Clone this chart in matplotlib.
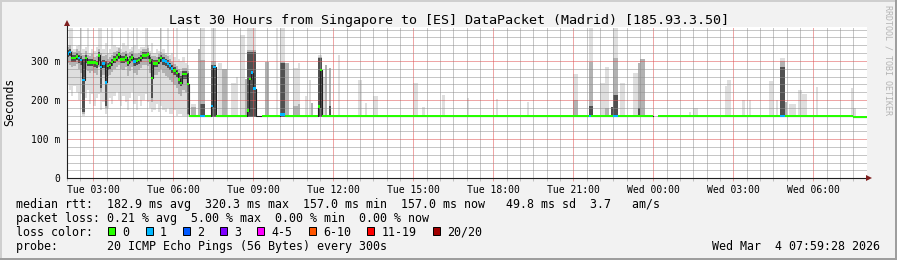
import numpy as np
import matplotlib
matplotlib.use('Agg')
import matplotlib.pyplot as plt
from matplotlib.patches import Rectangle

W, H = 897, 260
plt.rcParams['font.family'] = 'DejaVu Sans Mono'
plt.rcParams['lines.scale_dashes'] = False

# ---------------- data ----------------
title = 'Last 30 Hours from Singapore to [ES] DataPacket (Madrid) [185.93.3.50]'
t_first = 1 + 59 / 60 + 28 / 3600      # Tue 01:59:28
t_last = t_first + 30                  # Wed 07:59:28
tick_labels = ['Tue 03:00', 'Tue 06:00', 'Tue 09:00', 'Tue 12:00', 'Tue 15:00',
               'Tue 18:00', 'Tue 21:00', 'Wed 00:00', 'Wed 03:00', 'Wed 06:00']
y_ticks = [0, 100, 200, 300]
y_tick_labels = ['0', '100 m', '200 m', '300 m']

# busy period, one value per 5 minutes from Tue 02:00 (ms)
start_a = 'Tue 02:00'
med_a = [319, 323, 308, 308, 312, 308, 303, 251, 307, 296, 296, 296, 296, 293, 314,
         285, 293, 245, 287, 290, 297, 304, 309, 316, 304, 304, 309, 296, 304, 309,
         298, 300, 302, 308, 314, 314, 316, 301, 257, 294, 294, 301, 308, 301, 298,
         294, 288, 281, 275, 269, 253, 244, 267, 267, 241]
loss_a = [1, 1, 0, 0, 0, 1, 1, 1, 0, 0, 0, 0, 0, 0, 0,
          1, 1, 1, 0, 0, 0, 0, 0, 0, 0, 0, 0, 0, 0, 0,
          1, 0, 0, 0, 0, 0, 0, 0, 0, 0, 0, 0, 0, 1, 1,
          1, 1, 1, 0, 0, 0, 0, 0, 0, 0]
light_hi_a = [340, 384, 384, 330, 338, 340, 384, 330, 335, 384, 320, 330, 325, 335, 384,
              384, 330, 345, 320, 330, 384, 340, 335, 335, 330, 345, 338, 384, 330, 335,
              340, 384, 330, 335, 335, 384, 342, 325, 345, 320, 330, 325, 384, 330, 320,
              384, 315, 320, 310, 384, 305, 300, 310, 295, 290]
light_lo_a = [240, 225, 210, 235, 220, 200, 215, 160, 205, 225, 190, 215, 185, 205, 215,
              175, 195, 165, 180, 205, 190, 210, 220, 200, 185, 210, 195, 175, 205, 220,
              190, 175, 210, 185, 200, 215, 195, 180, 170, 175, 190, 170, 185, 175, 170,
              180, 165, 165, 175, 160, 165, 165, 160, 160, 160]
mid_hi_a = [335, 340, 325, 322, 330, 325, 320, 315, 325, 315, 312, 318, 310, 312, 330,
            320, 312, 315, 305, 310, 315, 322, 325, 332, 320, 322, 326, 318, 322, 325,
            318, 318, 320, 325, 330, 330, 332, 320, 312, 312, 310, 318, 322, 318, 315,
            312, 305, 298, 292, 288, 280, 275, 282, 282, 275]
mid_lo_a = [295, 290, 285, 288, 292, 280, 270, 165, 280, 275, 270, 275, 268, 265, 285,
            220, 265, 180, 262, 265, 272, 280, 285, 290, 280, 278, 285, 262, 275, 285,
            270, 265, 278, 282, 290, 290, 288, 270, 195, 265, 265, 272, 280, 270, 262,
            258, 252, 245, 238, 230, 215, 210, 225, 220, 162]
dark_hi_a = [328, 330, 316, 316, 320, 316, 312, 305, 315, 304, 304, 305, 303, 301, 322,
             300, 302, 300, 295, 298, 305, 312, 317, 324, 312, 312, 317, 305, 312, 317,
             308, 308, 310, 316, 322, 322, 324, 310, 305, 302, 302, 309, 316, 310, 306,
             302, 296, 290, 284, 278, 270, 262, 275, 275, 268]
dark_lo_a = [310, 312, 298, 298, 302, 296, 290, 170, 296, 286, 286, 286, 284, 282, 300,
             230, 282, 185, 276, 280, 288, 294, 300, 306, 294, 294, 298, 286, 294, 300,
             286, 290, 292, 298, 304, 304, 306, 292, 205, 284, 284, 292, 298, 290, 288,
             282, 276, 270, 264, 258, 240, 235, 255, 255, 165]

# quiet period: flat median segments
flat_from = ['Tue 06:35', 'Wed 00:10', 'Wed 07:30']
flat_to = ['Wed 00:00', 'Wed 07:30', 'Wed 08:00']
flat_ms = [159, 159, 157]

# median steps that differ from the flat line (loss -1: no colour)
ev_time = ['Tue 07:00', 'Tue 07:05', 'Tue 07:25', 'Tue 07:30', 'Tue 08:45', 'Tue 08:50',
           'Tue 08:55', 'Tue 09:00', 'Tue 09:05', 'Tue 09:10', 'Tue 09:15', 'Tue 10:00',
           'Tue 10:05', 'Tue 11:25', 'Tue 11:30', 'Tue 21:35', 'Tue 22:30', 'Tue 22:35',
           'Wed 04:45', 'Wed 04:50']
ev_ms = [159, 159, 185, 285, 173, 254, 270, 229, 159, 159, 159, 163,
         163, 183, 277, 159, 159, 159, 159, 159]
ev_loss = [1, 1, 1, 1, 0, 0, 1, 1, -1, -1, -1, 1, 1, 0, 0, 1, 1, 1, 1, 1]

# smoke spikes during the quiet period: start, 5-min steps, tops of light/mid/dark smoke
sp_time = ['Tue 06:40', 'Tue 06:55', 'Tue 07:00', 'Tue 07:25', 'Tue 07:40', 'Tue 07:50',
           'Tue 08:10', 'Tue 08:20', 'Tue 08:30', 'Tue 08:40', 'Tue 08:45', 'Tue 09:25',
           'Tue 09:50', 'Tue 10:00', 'Tue 10:10', 'Tue 10:30', 'Tue 10:40', 'Tue 10:55',
           'Tue 11:05', 'Tue 11:10', 'Tue 11:25', 'Tue 11:35', 'Tue 11:40', 'Tue 11:50',
           'Tue 12:10', 'Tue 12:55', 'Tue 13:10', 'Tue 13:30', 'Tue 15:00', 'Tue 15:20',
           'Tue 16:05', 'Tue 17:00', 'Tue 18:05', 'Tue 19:15', 'Tue 21:00', 'Tue 21:35',
           'Tue 22:00', 'Tue 22:10', 'Tue 22:25', 'Tue 22:30', 'Tue 22:45', 'Tue 23:15',
           'Tue 23:25', 'Tue 23:30', 'Wed 01:20', 'Wed 01:30', 'Wed 02:40', 'Wed 02:45',
           'Wed 03:20', 'Wed 03:35', 'Wed 04:20', 'Wed 04:35', 'Wed 04:45', 'Wed 04:55',
           'Wed 05:05', 'Wed 05:25', 'Wed 05:35', 'Wed 06:05', 'Wed 07:25', 'Wed 07:30']
sp_steps = [2, 1, 2, 2, 2, 2, 2, 1, 2, 1, 4, 2, 1, 2, 2, 2, 1, 1, 1, 1, 2, 1, 1, 1,
            1, 2, 1, 2, 2, 1, 1, 1, 1, 1, 2, 2, 2, 2, 1, 2, 2, 2, 1, 2, 1, 2, 1, 2,
            1, 1, 2, 1, 2, 1, 3, 2, 2, 1, 1, 1]
sp_light = [190, 330, 384, 384, 295, 279, 243, 259, 366, 254, 384, 298, 384, 384, 295, 282,
            296, 210, 251, 192, 315, 260, 290, 281, 315, 251, 192, 210, 243, 182, 213, 205,
            203, 196, 267, 384, 243, 285, 182, 384, 243, 270, 294, 305, 170, 179, 236, 251,
            200, 200, 250, 200, 307, 195, 190, 225, 215, 233, 231, 180]
sp_mid = [183, 330, 302, 300, 0, 279, 0, 0, 0, 254, 327, 298, 0, 298, 295, 185,
          190, 0, 0, 192, 310, 0, 290, 281, 0, 0, 0, 0, 0, 0, 0, 0,
          0, 0, 200, 298, 0, 180, 182, 307, 0, 0, 294, 305, 0, 0, 0, 0,
          0, 0, 0, 0, 300, 195, 0, 0, 0, 0, 0, 0]
sp_dark = [0, 0, 190, 290, 0, 0, 0, 0, 0, 0, 322, 0, 0, 295, 0, 0,
           0, 0, 0, 0, 307, 0, 0, 185, 0, 0, 0, 0, 0, 0, 0, 0,
           0, 0, 0, 185, 0, 0, 182, 213, 0, 0, 180, 0, 0, 0, 0, 0,
           0, 0, 0, 0, 285, 0, 0, 0, 0, 0, 0, 0]
sp_base = 158

loss_names = ['0', '1', '2', '3', '4-5', '6-10', '11-19', '20/20']
loss_colors = ['#26ff00', '#00b8ff', '#0059ff', '#7e00ff', '#ff00ff', '#ff5500', '#ff0000', '#a10000']

line_rtt = 'median rtt:  182.9 ms avg  320.3 ms max  157.0 ms min  157.0 ms now   49.8 ms sd  3.7   am/s'
line_loss = 'packet loss: 0.21 % avg  5.00 % max  0.00 % min  0.00 % now'
line_probe = 'probe:       20 ICMP Echo Pings (56 Bytes) every 300s'
stamp = 'Wed Mar  4 07:59:28 2026'


def hrs(s):
    day, hm = s.split()
    h, m = hm.split(':')
    return (24 if day == 'Wed' else 0) + int(h) + int(m) / 60


# ---------------- assemble 5-minute grid ----------------
step = 5 / 60
t0 = hrs(start_a)
n = 360
t = t0 + np.arange(n + 1) * step
med = np.full(n, np.nan)
loss = np.full(n, -1)


def idx(s):
    return int(round((hrs(s) - t0) / step))


med[:len(med_a)] = med_a
loss[:len(loss_a)] = loss_a
for f0, f1, v in zip(flat_from, flat_to, flat_ms):
    med[idx(f0):idx(f1)] = v
    loss[idx(f0):idx(f1)] = 0
for s, v, c in zip(ev_time, ev_ms, ev_loss):
    med[idx(s)] = v
    loss[idx(s)] = c

# ---------------- figure ----------------
fig = plt.figure(figsize=(W / 100, H / 100), dpi=100)
fig.patch.set_facecolor('#f2f2f2')
ax = fig.add_axes([66.5 / W, 1 - 178.3 / H, 800 / W, 151.6 / H])
ax.set_facecolor('white')
ax.set_xlim(t_first, t_last)
ax.set_ylim(0, 387.6)

light, mid, dark = '#dedede', '#b2b2b2', '#505050'
ta = t[:len(med_a)]
for lo, hi, col in [(light_lo_a, light_hi_a, light), (mid_lo_a, mid_hi_a, mid),
                    (dark_lo_a, dark_hi_a, dark)]:
    ax.bar(ta, np.subtract(hi, lo), bottom=lo, width=step, align='edge', color=col,
           linewidth=0, antialiased=False, zorder=1)

ts = np.array([hrs(s) for s in sp_time])
for tops, col in [(sp_light, light), (sp_mid, mid), (sp_dark, dark)]:
    tops = np.array(tops, dtype=float)
    m = tops > 0
    ax.bar(ts[m], tops[m] - sp_base, bottom=sp_base, width=np.array(sp_steps)[m] * step,
           align='edge', color=col, linewidth=0, antialiased=False, zorder=1)

# median: dark connecting line plus loss-coloured stubs
ax.step(t, np.append(med, med[-1]), where='post', color='#202020', lw=0.8, zorder=3)
half = 3.2
for c, col in enumerate(loss_colors):
    m = loss == c
    if m.any():
        ax.bar(t[:-1][m], 2 * half, bottom=med[m] - half, width=step, align='edge',
               color=col, linewidth=0, antialiased=False, zorder=4)

# grid
ax.set_xticks([hrs(s) for s in tick_labels])
ax.set_xticklabels(tick_labels)
ax.set_xticks(np.arange(2.0, 32.0, 0.5), minor=True)
ax.set_yticks(y_ticks)
ax.set_yticklabels(y_tick_labels)
ax.set_yticks(np.arange(0, 388, 20), minor=True)
ax.set_axisbelow(False)
dots = (0, (0.72, 0.72))
minor_rgb, minor_a = (0.56, 0.56, 0.56), 0.5
major_rgb, major_a = (0.87, 0.31, 0.31), 0.5
ax.grid(which='minor', color=minor_rgb, alpha=minor_a, linestyle=dots, linewidth=0.72,
        antialiased=False)
ax.grid(which='major', color=major_rgb, alpha=major_a, linestyle=dots, linewidth=0.72,
        antialiased=False)
ax.tick_params(axis='x', which='major', length=2, width=0.72, color=major_rgb + (major_a,),
               labelsize=7, pad=2.5)
ax.tick_params(axis='x', which='minor', length=2, width=0.72, color=minor_rgb + (minor_a,))
ax.tick_params(axis='y', which='both', length=0, labelsize=7, pad=4.7)
for sp in ax.spines.values():
    sp.set_visible(False)

# axes with arrows
ax.plot([0, 0], [0, 1.02], transform=ax.transAxes, color='#1f1f1f', lw=0.8, clip_on=False, zorder=6)
ax.plot([0, 1.002], [0, 0], transform=ax.transAxes, color='#1f1f1f', lw=0.8, clip_on=False, zorder=6)
ax.plot([0], [1.025], transform=ax.transAxes, marker='^', ms=4, color='#801f1f',
        clip_on=False, zorder=7, markeredgewidth=0)
ax.plot([1.0035], [0], transform=ax.transAxes, marker='>', ms=4, color='#801f1f',
        clip_on=False, zorder=7, markeredgewidth=0)


# texts
def px(x, y):
    return x / W, 1 - y / H


fig.text(*px(448.5, 24), title, ha='center', va='baseline', fontsize=9.6)
fig.text(*px(10, 102), 'Seconds', rotation=90, ha='center', va='center', fontsize=8.3)
fig.text(*px(888, 60), 'RRDTOOL / TOBI OETIKER', rotation=270, ha='center', va='center',
         fontsize=6, color='#b4b4b4')
fig.text(*px(16, 207.7), line_rtt, ha='left', va='baseline', fontsize=8.4)
fig.text(*px(16, 221.7), line_loss, ha='left', va='baseline', fontsize=8.4)
fig.text(*px(16, 235.7), 'loss color:', ha='left', va='baseline', fontsize=8.4)
fig.text(*px(16, 250), line_probe, ha='left', va='baseline', fontsize=8.4)
fig.text(*px(880, 250), stamp, ha='right', va='baseline', fontsize=8.4)

# legend boxes: box, gap, label, two blank cells
cell = 7.03
bx = 108.3
for name, col in zip(loss_names, loss_colors):
    x0, y0 = px(bx, 235.3)
    fig.add_artist(Rectangle((x0, y0), 7 / W, 8 / H, transform=fig.transFigure,
                             facecolor=col, edgecolor='black', linewidth=0.7))
    fig.text(*px(bx + 14.4, 235.7), name, ha='left', va='baseline', fontsize=8.4)
    bx += 16.2 + cell * (len(name) + 2)

# 3d frame
fig.add_artist(Rectangle((0, 1 - 2 / H), 1, 2 / H, transform=fig.transFigure, color='#cfcfcf', lw=0))
fig.add_artist(Rectangle((0, 0), 2 / W, 1, transform=fig.transFigure, color='#cfcfcf', lw=0))
fig.add_artist(Rectangle((0, 0), 1, 2 / H, transform=fig.transFigure, color='#9e9e9e', lw=0))
fig.add_artist(Rectangle((1 - 2 / W, 0), 2 / W, 1, transform=fig.transFigure, color='#9e9e9e', lw=0))

fig.savefig('out.png', dpi=100, facecolor=fig.get_facecolor())
